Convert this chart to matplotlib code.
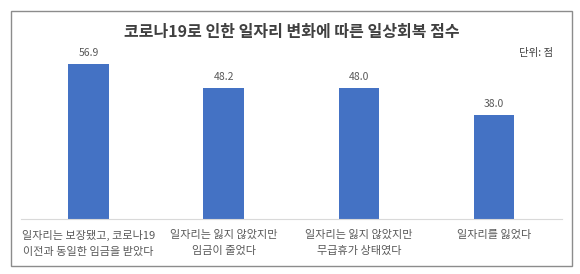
import matplotlib
matplotlib.use("Agg")
import matplotlib.pyplot as plt
from matplotlib.patches import Rectangle

plt.rcParams["font.family"] = ["Noto Sans CJK KR", "DejaVu Sans"]

TITLE = "코로나19로 인한 일자리 변화에 따른 일상회복 점수"
UNIT = "단위: 점"
CATEGORIES = [
    "일자리는 보장됐고, 코로나19\n이전과 동일한 임금을 받았다",
    "일자리는 잃지 않았지만\n임금이 줄었다",
    "일자리는 잃지 않았지만\n무급휴가 상태였다",
    "일자리를 잃었다",
]
SCORES = [56.9, 48.2, 48.0, 38.0]

W, H = 580, 274
fig = plt.figure(figsize=(W / 100, H / 100), dpi=100)
fig.patch.set_facecolor("white")

# outer frame
fig.add_artist(Rectangle((11 / W, 1 - 266 / H), 561 / W, 255 / H, transform=fig.transFigure,
                         fill=False, edgecolor="#8c8c8c", linewidth=1.0))

ax = fig.add_axes([21 / W, 55 / H, 540.5 / W, 163.5 / H])
x = range(len(SCORES))
ax.bar(x, SCORES, width=0.30, color="#4472C4")
for xi, v in zip(x, SCORES):
    ax.text(xi, v + 2.2, f"{v:.1f}", ha="center", va="bottom", fontsize=7.5, color="#595959")
ax.set_xlim(-0.5, len(SCORES) - 0.5)
ax.set_ylim(0, 60)
ax.set_yticks([])
ax.set_xticks(list(x))
ax.set_xticklabels(CATEGORIES, fontsize=8, color="#595959", linespacing=1.75)
ax.tick_params(axis="x", length=0, pad=8)
for s in ["top", "right", "left"]:
    ax.spines[s].set_visible(False)
ax.spines["bottom"].set_color("#d9d9d9")
ax.patch.set_alpha(0)

fig.text(291.5 / W, 1 - 32 / H, TITLE, ha="center", va="center", fontsize=11.5,
         fontweight="bold", color="#404040")
fig.text(536 / W, 1 - 53 / H, UNIT, ha="center", va="center", fontsize=7.5, color="#404040")

fig.savefig("out.png", dpi=100)
